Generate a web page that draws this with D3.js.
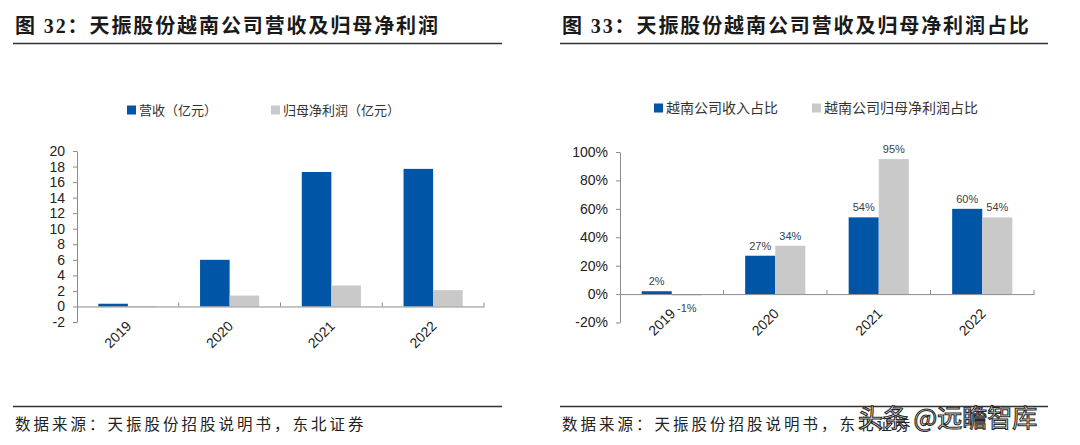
<!DOCTYPE html>
<html>
<head>
<meta charset="utf-8">
<script src="https://cdn.jsdelivr.net/npm/d3@7/dist/d3.min.js"></script>
<style>
  html, body { margin: 0; padding: 0; background: #fff; }
  svg { display: block; }
</style>
</head>
<body>
<svg id="chart" width="1080" height="445"></svg>
<script>
// ----- Data -----
const years = ["2019", "2020", "2021", "2022"];

// Fig 32: revenue and net profit attributable to parent (100M RMB)
const revenue = [0.35, 6.0, 17.3, 17.7];
const netProfit = [-0.08, 1.4, 2.7, 2.1];
const leftSeries = ["营收（亿元）", "归母净利润（亿元）"];
const leftTicks = [-2, 0, 2, 4, 6, 8, 10, 12, 14, 16, 18, 20];

// Fig 33: share of the Vietnam company
const revenueShare = [0.02, 0.27, 0.54, 0.60];
const profitShare = [-0.01, 0.34, 0.95, 0.54];
const rightSeries = ["越南公司收入占比", "越南公司归母净利润占比"];
const rightTicks = [-0.2, 0, 0.2, 0.4, 0.6, 0.8, 1.0];

// ----- Style -----
const BLUE = "#0055a6";
const GREY = "#c9c9c9";
const AXIS = "#8c8c8c";
const LATIN = "'Liberation Sans', Arial, sans-serif";
const CJK = "'Noto Sans CJK SC', 'Liberation Sans', sans-serif";
const SERIF = "'Liberation Serif', 'Noto Sans CJK SC', serif";

// plain hyphen for negatives, like the source
const locale = d3.formatLocale({ decimal: ".", thousands: ",", grouping: [3], currency: ["", ""], minus: "-" });
const fmtInt = locale.format("d");
const fmtPct = locale.format(".0%");

const svg = d3.select("#chart");

// Title, rules and source note for one panel
function frame(x0, x1, title) {
  svg.append("text")
    .attr("x", x0 + 2)
    .attr("y", 33)
    .attr("font-family", SERIF)
    .attr("font-weight", 700)
    .attr("font-size", 20)
    .attr("letter-spacing", 1.9)
    .attr("fill", "#1a1a1a")
    .text(title);

  svg.append("line")
    .attr("x1", x0).attr("x2", x1)
    .attr("y1", 43.5).attr("y2", 43.5)
    .attr("stroke", "#333").attr("stroke-width", 1.3);

  svg.append("line")
    .attr("x1", x0).attr("x2", x1)
    .attr("y1", 406.5).attr("y2", 406.5)
    .attr("stroke", "#333").attr("stroke-width", 1.3);

  svg.append("text")
    .attr("x", x0 + 2)
    .attr("y", 430)
    .attr("font-family", SERIF)
    .attr("font-size", 15.5)
    .attr("letter-spacing", 3)
    .attr("fill", "#222")
    .text("数据来源：天振股份招股说明书，东北证券");
}

// Grouped bar chart inside the given pixel box
function barPanel(opt) {
  const g = svg.append("g");

  const y = d3.scaleLinear().domain(opt.domain).range([opt.bottom, opt.top]);
  const x0 = d3.scaleBand().domain(years).range([opt.left, opt.right]);
  const x1 = d3.scaleBand().domain([0, 1])
    .range([0, x0.bandwidth()])
    .paddingInner(0)
    .paddingOuter(0.72);

  // Legend
  opt.series.forEach((name, i) => {
    const lx = opt.legendX[i];
    g.append("rect")
      .attr("x", lx).attr("y", opt.legendY - 4.5)
      .attr("width", 9).attr("height", 9)
      .attr("fill", i === 0 ? BLUE : GREY);
    g.append("text")
      .attr("x", lx + 12).attr("y", opt.legendY)
      .attr("dy", "0.36em")
      .attr("font-family", CJK)
      .attr("font-size", opt.legendSize)
      .attr("fill", "#333")
      .text(name);
  });

  // Y axis
  const yAxis = g.append("g")
    .attr("transform", `translate(${opt.left},0)`)
    .call(d3.axisLeft(y).tickValues(opt.ticks).tickFormat(opt.fmt)
      .tickSize(4).tickSizeOuter(0).tickPadding(8));
  yAxis.selectAll("text")
    .attr("font-family", LATIN)
    .attr("font-size", 14)
    .attr("fill", "#222");
  yAxis.selectAll("path, line").attr("stroke", AXIS);

  // Bars
  const values = [opt.a, opt.b];
  values.forEach((arr, s) => {
    g.append("g").selectAll("rect")
      .data(arr)
      .join("rect")
      .attr("x", (d, i) => x0(years[i]) + x1(s))
      .attr("width", x1.bandwidth())
      .attr("y", d => y(Math.max(0, d)))
      .attr("height", d => Math.abs(y(d) - y(0)))
      .attr("fill", s === 0 ? BLUE : GREY);

    if (opt.labels) {
      g.append("g").selectAll("text")
        .data(arr)
        .join("text")
        .attr("x", (d, i) => x0(years[i]) + x1(s) + x1.bandwidth() / 2)
        .attr("y", d => d >= 0 ? y(d) - 6 : y(d) + 16)
        .attr("text-anchor", "middle")
        .attr("font-family", LATIN)
        .attr("font-size", 11)
        .attr("fill", "#404040")
        .text(d => fmtPct(d));
    }
  });

  // X axis at zero (d3 already centres each tick in its band)
  const y0 = y(0);
  const xAxis = g.append("g")
    .attr("transform", `translate(0,${y0})`)
    .call(d3.axisBottom(x0).tickSize(0).tickSizeOuter(0));
  xAxis.select(".domain").attr("stroke", AXIS);
  xAxis.selectAll("text")
    .attr("font-family", LATIN)
    .attr("font-size", 14)
    .attr("fill", "#222")
    .attr("text-anchor", "end")
    .attr("x", 0).attr("y", 0).attr("dy", "0.35em")
    .attr("transform", "translate(1,17) rotate(-45)");

  // Category boundary ticks pointing up
  const bounds = years.slice(1).map(d => x0(d)).concat([opt.right]);
  g.append("g").selectAll("line")
    .data(bounds)
    .join("line")
    .attr("x1", d => d).attr("x2", d => d)
    .attr("y1", y0).attr("y2", y0 - 4)
    .attr("stroke", AXIS);
}

frame(13, 502, "图  32：天振股份越南公司营收及归母净利润");
frame(560, 1048, "图  33：天振股份越南公司营收及归母净利润占比");

barPanel({
  left: 77, right: 484, top: 151, bottom: 322,
  domain: [-2, 20], ticks: leftTicks, fmt: fmtInt,
  a: revenue, b: netProfit,
  series: leftSeries, legendX: [127, 271], legendY: 110, legendSize: 13,
  labels: false
});

barPanel({
  left: 620, right: 1034, top: 152, bottom: 322.5,
  domain: [-0.2, 1.0], ticks: rightTicks, fmt: fmtPct,
  a: revenueShare, b: profitShare,
  series: rightSeries, legendX: [654, 812], legendY: 108, legendSize: 14,
  labels: true
});

// Watermark over the right source note
svg.append("text")
  .attr("x", 858)
  .attr("y", 427)
  .attr("font-family", CJK)
  .attr("font-size", 25)
  .attr("fill", "#fff")
  .attr("stroke", "#2a2a2a")
  .attr("stroke-width", 1.1)
  .text("头条 @远瞻智库");
</script>
</body>
</html>
